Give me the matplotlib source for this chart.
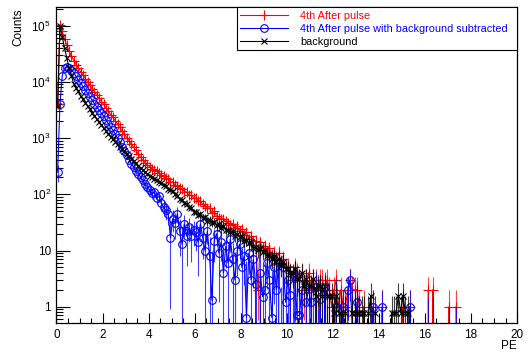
import numpy as np
import matplotlib
matplotlib.use("Agg")
import matplotlib.pyplot as plt
from matplotlib.ticker import LogLocator, NullFormatter, MultipleLocator

plt.rcParams['font.family'] = ['Liberation Sans', 'DejaVu Sans']
plt.rcParams['mathtext.fontset'] = 'custom'
plt.rcParams['mathtext.rm'] = 'Liberation Sans'

# histogram settings: 0.1 PE bins, background scaled before subtraction
bin_width = 0.1
bg_scale = 0.785

# 4th after pulse (raw counts per bin)
after_pulse = [
    4000, 104700, 79400, 57500, 44700, 35500, 28800, 24000, 20400, 17400,
    15100, 13200, 11500, 10000, 8700, 7590, 6610, 5750, 5130, 4470,
    3980, 3470, 3020, 2630, 2340, 2040, 1780, 1550, 1350, 1170,
    1020, 891, 776, 692, 603, 525, 457, 407, 363, 331,
    312, 284, 271, 255, 242, 221, 213, 193, 185, 163,
    168, 144, 140, 127, 125, 112, 110, 97, 96, 86,
    85, 76, 77, 66, 62, 58, 56, 47, 50, 41,
    38, 37, 36, 33, 31, 29, 30, 25, 27, 22,
    24, 19, 21, 16, 18, 15, 15, 2, 14, 11,
    12, 9, 11, 8, 9, 7, 9, 6, 7, 5,
    5, 4, 3, 5, 4, 3, 4, 2, 3, 4,
    2, 3, 3, 2, 3, 3, 2, 3, 2, 1,
    2, 3, 1, 2, 1, 1, 2, 3, 2, 2,
    2, 1, 0, 1, 0, 0, 0, 1, 0, 0,
    0, 1, 0, 0, 0, 0, 0, 0, 0, 0,
    1, 0, 0, 1, 0, 0, 0, 0, 0, 0,
    0, 2, 0, 2, 0, 0, 0, 0, 0, 0,
    1, 0, 0, 1,
]

# background (raw counts per bin, drawn scaled by bg_scale)
bg_raw = [
    4710, 127400, 80260, 50960, 33500, 22680, 16050, 11850, 10060, 8660,
    7130, 6240, 5440, 4740, 4130, 3590, 3200, 2790, 2480, 2170,
    1920, 1720, 1530, 1360, 1217, 1084, 989, 902, 823, 750,
    669, 610, 544, 496, 452, 403, 376, 343, 320, 292,
    273, 258, 239, 230, 214, 203, 186, 179, 161, 155,
    145, 127, 121, 106, 103, 89, 86, 76, 73, 63,
    62, 55, 57, 49, 50, 43, 45, 39, 41, 36,
    37, 32, 35, 30, 30, 27, 28, 23, 25, 22,
    23, 19, 20, 17, 18, 14, 15, 13, 14, 12,
    13, 10, 11, 9, 10, 8, 9, 7, 8, 6,
    6, 5, 5, 6, 4, 4, 5, 3, 4, 3,
    3, 4, 2, 3, 3, 2, 3, 2, 2, 2,
    1, 2, 1, 1, 0, 1, 0, 0, 1, 1,
    1, 1, 1, 1, 0, 1, 2, 0, 1, 0,
    0, 0, 0, 0, 0, 1, 1, 1, 2, 1,
    2, 1, 1, 0, 0, 0, 0, 0, 0, 0,
    0, 0, 0, 0, 0, 0, 0, 0, 0, 0,
    0, 0, 0, 0,
]

# after pulse with background subtracted
subtracted = [
    250, 4000, 13000, 17500, 18400, 17700, 16200, 14700, 12500, 10600,
    9500, 8300, 7230, 6280, 5460, 4770, 4100, 3560, 3180, 2770,
    2470, 2120, 1820, 1560, 1385, 1189, 1004, 842, 704, 581,
    495, 412, 349, 303, 262, 230, 205, 178, 150, 135,
    118, 104, 110, 86, 92, 69, 59, 52, 45, 17,
    37, 31, 45, 22, 13, 30, 18, 26, 18, 23,
    21, 14, 30, 17, 10, 22, 8, 1.3, 15, 20,
    9, 14, 4, 12, 6, 16, 7, 3, 10, 13,
    5, 8, 0.64, 9, 3, 7, 2.5, -8, 4, 1.5,
    2, 6, 3, 0.64, 5, 2, 6, -1, 5, 1.2,
    3, 1.6, -1, 3.5, 0.7, 0.7, 2, -2, 1.2, 2.1,
    1.2, -1, 2.2, -1, 1.4, -0.5, 2.2, -1, 0.4, -1,
    -0.6, 1, -0.5, 0.2, 1, -1, 2, 3, 0.4, 0.4,
    1.2, -0.6, -0.8, -0.8, 0, -0.8, -1.6, 1, -0.8, 0,
    0, 1, 0, 0, 0, -0.8, -0.8, -0.8, -1.6, -0.8,
    -0.6, -0.8, -0.8, 1, 0, 0, 0, 0, 0, 0,
    0, 0, 0, 0, 0, 0, 0, 0, 0, 0,
    0, 0, 0, 0,
]

pe = np.arange(len(after_pulse)) * bin_width + bin_width / 2
red = np.array(after_pulse, dtype=float)
bg_counts = np.array(bg_raw, dtype=float)
bg = bg_counts * bg_scale
sub = np.array(subtracted, dtype=float)

err_red = np.sqrt(red)
err_bg = bg_scale * np.sqrt(bg_counts)
err_sub = np.sqrt(red + bg_scale ** 2 * bg_counts)

fig = plt.figure(figsize=(5.3, 3.55), dpi=100)
ax = fig.add_axes([0.1066, 0.0893, 0.8689, 0.8896])
ax.set_yscale('log', nonpositive='clip')

series = [
    (red, err_red, 'red', '+', 6.5, '4th After pulse'),
    (sub, err_sub, 'blue', 'o', 5.5, '4th After pulse with background subtracted'),
    (bg, err_bg, 'black', 'x', 4.5, 'background'),
]
for y, err, col, mk, ms, lab in series:
    ax.errorbar(pe, y, yerr=err, fmt='none', ecolor=col, elinewidth=0.8, alpha=0.75)
    ax.plot(pe, y, color=col, lw=0.8, marker=mk, ms=ms, mfc='none',
            mec=col, mew=0.8, label=lab)

ax.set_xlim(0, 20)
ax.set_ylim(0.507, 2.11e5)

ax.set_xticks(np.arange(0, 21, 2))
ax.xaxis.set_minor_locator(MultipleLocator(0.5))
ax.set_yticks([1, 10, 100, 1e3, 1e4, 1e5],
              ['1', '10', r'$10^{2}$', r'$10^{3}$', r'$10^{4}$', r'$10^{5}$'])
ax.yaxis.set_minor_locator(LogLocator(base=10, subs=np.arange(2, 10)))
ax.yaxis.set_minor_formatter(NullFormatter())

ax.tick_params(which='both', direction='in', top=False, right=False,
               labelsize=8.5, width=0.8)
ax.tick_params(axis='y', which='major', length=10, pad=4)
ax.tick_params(axis='y', which='minor', length=5)
ax.tick_params(axis='x', which='major', length=7, pad=4)
ax.tick_params(axis='x', which='minor', length=3.5)
for s in ax.spines.values():
    s.set_linewidth(0.9)

leg = ax.legend(loc='upper left', bbox_to_anchor=(0.392, 0.0, 0.608, 1.0),
                mode='expand', borderaxespad=0, fontsize=7.8, handlelength=4.4,
                handletextpad=1.1, labelspacing=0.3, borderpad=0.3,
                fancybox=False, framealpha=1, edgecolor='black', numpoints=1)
leg.get_frame().set_linewidth(0.8)
for txt, col in zip(leg.get_texts(), ['red', 'blue', 'black']):
    txt.set_color(col)

fig.text(0.035, 0.975, 'Counts', rotation=90, ha='center', va='top', fontsize=8.5)
fig.text(0.9755, 0.0254, 'PE', ha='right', va='center', fontsize=8.5)

fig.savefig('out.png', dpi=100)
